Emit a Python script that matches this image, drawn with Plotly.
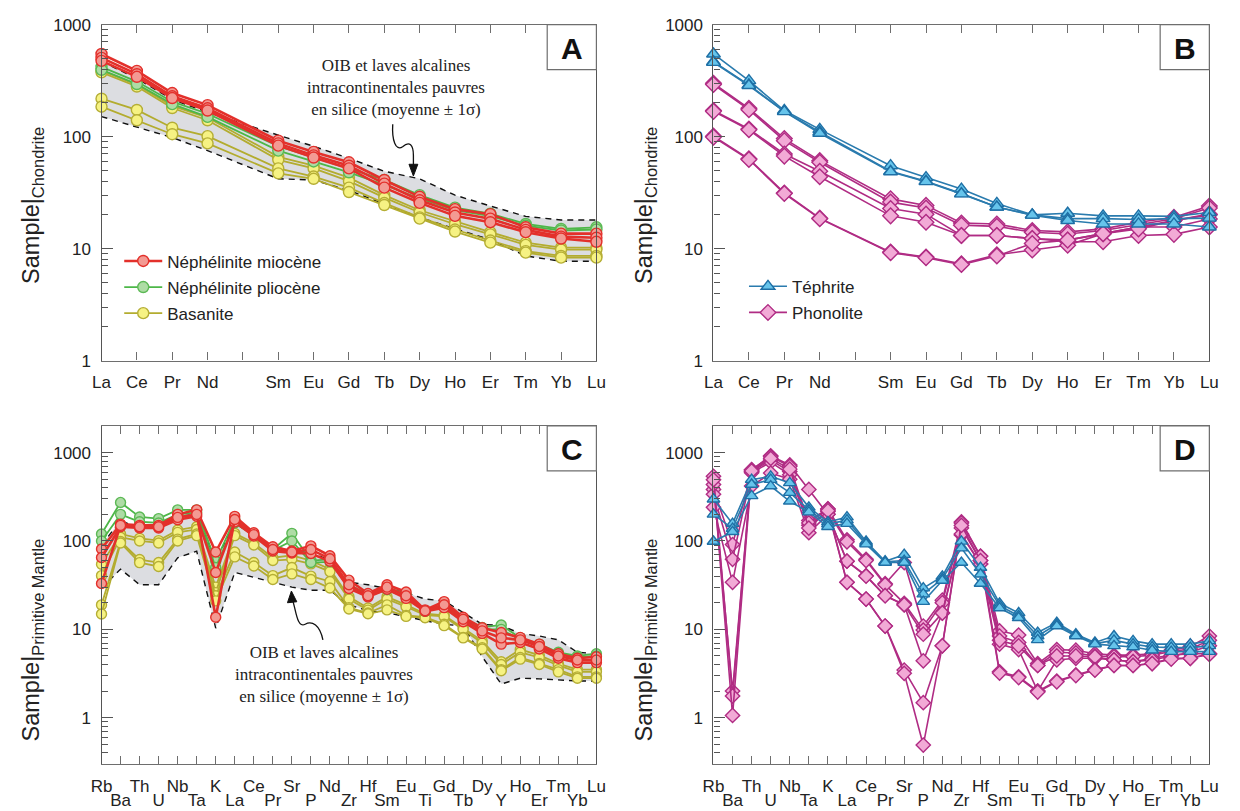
import math
import plotly.graph_objects as go

W, H = 1240, 811

# ---------------- categories ----------------
REE_AXIS = ["La", "Ce", "Pr", "Nd", "Pm", "Sm", "Eu", "Gd", "Tb", "Dy", "Ho", "Er", "Tm", "Yb", "Lu"]
REE_TICKTEXT = ["La", "Ce", "Pr", "Nd", "", "Sm", "Eu", "Gd", "Tb", "Dy", "Ho", "Er", "Tm", "Yb", "Lu"]
REE = ["La", "Ce", "Pr", "Nd", "Sm", "Eu", "Gd", "Tb", "Dy", "Ho", "Er", "Tm", "Yb", "Lu"]
SPIDER = ["Rb", "Ba", "Th", "U", "Nb", "Ta", "K", "La", "Ce", "Pr", "Sr", "P", "Nd", "Zr", "Hf",
          "Sm", "Eu", "Ti", "Gd", "Tb", "Dy", "Y", "Ho", "Er", "Tm", "Yb", "Lu"]

# ---------------- Panel A (chondrite-normalised REE) ----------------
A_red = [
    [547, 386, 245, 191, 92, 73, 59, 41, 29, 22.5, 20.3, 15.5, 13.6, 13.6],
    [505, 361, 229, 179, 87, 68, 55, 38, 27, 21, 18.5, 14.7, 12.8, 12.5],
    [475, 342, 221, 171, 83, 65, 52, 35, 25.6, 19.6, 17.2, 14, 12.3, 11.5],
]
A_green = [
    [420, 310, 205, 160, 82, 65, 52, 41, 30, 23.2, 20.5, 16.6, 15, 15.5],
    [395, 295, 195, 150, 75, 60, 48, 37, 28, 22, 19.5, 16, 14.5, 14.8],
]
A_yellow = [
    [390, 290, 188, 148, 66, 55, 43, 30, 22, 17.5, 14, 11.3, 10.2, 10.2],
    [375, 280, 180, 140, 62, 52, 40, 28.5, 21, 16.5, 13.4, 10.8, 9.8, 9.8],
    [218, 173, 120, 101, 52, 44, 35, 25.5, 19, 14.8, 11.8, 9.5, 8.6, 8.6],
    [185, 140, 105, 87, 47, 42, 32, 24.5, 18.5, 14.2, 11.3, 9.2, 8.3, 8.3],
]
A_band_upper = [470, 330, 215, 165, 103, 82, 64, 49, 42, 30, 24, 19.4, 18, 18]
A_band_lower = [151, 122, 98, 75, 42, 41, 33, 25, 19, 15, 12, 8.6, 7.7, 7.7]

# ---------------- Panel B ----------------
B_tephrite = [
    [547, 316, 171, 116, 55, 43, 34, 25.3, 20, 20.7, 19.6, 19.6, 19.4, 21],
    [466, 290, 168, 110, 49, 40, 31, 23.5, 20, 18.5, 18.5, 18.2, 18.5, 18.7],
    [460, 286, 167, 107, 48.5, 39.6, 30.8, 23.5, 19.9, 17.8, 16.6, 16.6, 16.6, 15.6],
]
B_phonolite = [
    [299, 179, 96, 61, 27.8, 24.3, 16.9, 16.6, 14.5, 14.1, 15, 17.2, 19, 24],
    [292, 174, 92, 59, 26, 23, 16.2, 15.8, 14, 13.5, 14.5, 16.5, 18.5, 23],
    [171, 117, 70, 49, 22.8, 20.3, 13.1, 13.1, 12.3, 11.9, 13.6, 15.6, 15.6, 18.4],
    [168, 115, 67, 43.8, 19.6, 17.2, 13.1, 13.1, 12.3, 11.5, 11.5, 13.1, 13.4, 15.6],
    [101, 63.4, 31.4, 18.7, 9.3, 8.4, 7.3, 8.8, 9.7, 10.7, 13.6, 15.6, 17.8, 20.3],
    [99, 62.5, 31, 18.5, 9.2, 8.3, 7.2, 8.6, 11.1, 11.9, 13.6, 15, 17.8, 20],
]

# ---------------- Panel C (primitive-mantle normalised) ----------------
C_red = [
    [81, 155, 150, 150, 200, 225, 75, 190, 124, 86, 77, 88, 68, 36, 25.4, 32, 26.5, 16.6, 20.6, 13.7, 10.4, 9.2, 8.1, 6.8, 5.3, 4.7, 4.9],
    [65, 145, 140, 140, 174, 190, 44, 164, 114, 77, 73, 72, 59, 29, 23.3, 28.4, 22.4, 16, 17.6, 12.2, 9, 6.8, 7.1, 6, 4.7, 4.2, 4.2],
    [33, 150, 145, 145, 185, 200, 13.7, 175, 118, 80, 75, 80, 63, 32, 24, 30, 24, 16.2, 19, 13, 9.6, 8, 7.6, 6.4, 5, 4.5, 4.5],
]
C_green = [
    [120, 273, 187, 179, 225, 225, 59, 175, 120, 80, 122, 60, 62, 32, 25, 30, 25, 16, 19, 13.5, 10.5, 11.2, 8, 6.8, 5.5, 5, 5.3],
    [100, 200, 165, 160, 200, 210, 50, 160, 115, 78, 100, 57, 58, 30, 24, 28, 23, 16, 18, 13, 10, 10, 7.6, 6.5, 5.3, 4.8, 5],
]
C_yellow = [
    [54.5, 120, 107, 101, 133, 145, 30, 122, 95, 64.6, 68.6, 60, 48, 23.3, 17.4, 23.3, 18.9, 15, 14.4, 10.4, 7.4, 4.3, 5.9, 5.1, 4.1, 3.5, 3.5],
    [40.5, 110, 100, 95, 125, 135, 26, 115, 90, 60, 62, 55, 45, 22, 16.5, 22, 18, 14.5, 14, 10, 7, 4, 5.5, 4.8, 3.9, 3.3, 3.3],
    [18.9, 98.6, 61.6, 57, 105, 120, 24, 75, 57, 40.5, 50, 40, 34.8, 17.6, 15.3, 18.9, 14.4, 13.7, 11.4, 8.1, 6.2, 3.5, 4.8, 4.1, 3.5, 2.9, 2.9],
    [14.9, 95, 56.9, 51.4, 100, 115, 21, 66, 52, 36.6, 42.4, 36.6, 29.3, 17, 15, 16.6, 14, 13.5, 11, 8, 6, 3.4, 4.6, 4, 3.3, 2.8, 2.8],
]
C_band_upper = [90, 170, 140, 140, 190, 200, 60, 160, 115, 85, 80, 75, 60, 34, 32, 29, 26, 22, 21, 15.5, 11.4, 11, 9, 8.4, 7.6, 5.5, 5.3]
C_band_lower = [29, 48, 32, 32, 64.6, 76.6, 10.3, 44, 38.8, 34, 30, 27.7, 27.7, 18.9, 16.2, 15.3, 14, 12.5, 11.4, 10.9, 4.9, 2.4, 2.8, 2.75, 2.65, 2.6, 2.6]

# ---------------- Panel D ----------------
D_tephrite = [
    [297, 157, 494, 539, 454, 240, 164, 186, 98.6, 59, 70, 29.3, 39.8, 99, 50, 19.7, 15.3, 9.2, 11.9, 8.8, 7.1, 8.4, 7.4, 6.8, 6.8, 6.8, 7.4],
    [200, 138, 436, 494, 352, 225, 155, 172, 95, 58, 60, 25, 37.5, 83, 42, 18.5, 14.2, 8.4, 11.4, 8.6, 6.9, 7.5, 6.8, 6.3, 6.2, 6.2, 6.5],
    [98.6, 127, 324, 418, 281, 212, 145, 157, 92, 57, 57, 20.6, 35.7, 57, 33, 17.4, 13.5, 7.6, 10.9, 8.4, 6.8, 6.5, 6.3, 5.8, 5.6, 5.6, 5.6],
]
D_phonolite = [
    [383, 91, 611, 822, 611, 171, 230, 103, 62, 32.8, 57, 10.9, 21.4, 164, 67.5, 9.6, 8.6, 4.1, 5.9, 5.8, 5.3, 5.1, 5.1, 5.3, 5.8, 6.4, 8.4],
    [337, 62, 590, 780, 560, 151, 215, 98, 60, 32, 19.7, 9.8, 20, 140, 60, 8.4, 7.1, 3.9, 5.5, 5.4, 5.0, 4.9, 4.9, 5.1, 5.6, 6.0, 7.5],
    [240, 34, 418, 586, 500, 124, 200, 59, 40.5, 24, 18.9, 8.8, 15.3, 117, 55, 6.8, 5.9, 2.0, 4.5, 4.7, 4.7, 4.5, 4.3, 4.7, 5.1, 5.3, 5.3],
    [435, 2.0, 637, 919, 724, 383, 200, 59, 40, 24, 19, 4.4, 15.3, 120, 55, 7.5, 6.5, 3.9, 5.0, 5.0, 4.9, 4.5, 4.3, 4.5, 5.0, 5.5, 6.5],
    [539, 1.76, 640, 900, 700, 160, 230, 34, 22, 10.9, 3.46, 1.48, 6.5, 160, 67, 3.3, 2.9, 2.0, 2.6, 3.05, 3.5, 3.9, 3.9, 4.1, 4.7, 4.7, 5.3],
    [494, 1.06, 620, 860, 650, 140, 220, 34, 22, 10.9, 3.18, 0.49, 6.5, 150, 60, 3.2, 2.85, 1.95, 2.55, 3.0, 3.45, 3.9, 3.9, 4.1, 4.6, 4.7, 5.2],
]

# ---------------- styles ----------------
FONT = "Liberation Sans, Arial, sans-serif"
SERIF = "Liberation Serif, Times New Roman, serif"
RED = dict(line="#E3302B", fill="#F39A93", edge="#E3302B", lw=2.6)
GREEN = dict(line="#4DB748", fill="#AEDCA5", edge="#5CB955", lw=1.8)
YELLOW = dict(line="#B3AC2F", fill="#F6F283", edge="#B5AE35", lw=1.8)
BLUE = dict(line="#2A7BAE", fill="#66C4EB", edge="#1E6FA5", lw=1.6)
PINK = dict(line="#B02C84", fill="#F2AAD6", edge="#B02C84", lw=1.6)


def px_x(px):
    return px / W


def px_y(py):
    return 1 - py / H


fig = go.Figure()


def add_band(xs, lower, upper, ax):
    fig.add_trace(go.Scatter(x=xs, y=lower, mode="lines", xaxis="x" + ax, yaxis="y" + ax,
                             line=dict(color="#111", width=1.4, dash="6px,5px"),
                             showlegend=False, hoverinfo="skip", cliponaxis=False))
    fig.add_trace(go.Scatter(x=xs, y=upper, mode="lines", xaxis="x" + ax, yaxis="y" + ax,
                             line=dict(color="#111", width=1.4, dash="6px,5px"),
                             fill="tonexty", fillcolor="#DCDDE1",
                             showlegend=False, hoverinfo="skip", cliponaxis=False))


def add_series(xs, series, style, symbol, size, ax, name, legend=None, rank=1000):
    for i, vals in enumerate(series):
        show = legend is not None and i == 0
        fig.add_trace(go.Scatter(
            x=xs, y=vals, mode="lines+markers", xaxis="x" + ax, yaxis="y" + ax,
            name=name, legendgroup=name + ax, showlegend=show, legendrank=rank,
            legend=legend if legend else "legend",
            line=dict(color=style["line"], width=style["lw"]),
            marker=dict(symbol=symbol, size=size, color=style["fill"],
                        line=dict(color=style["edge"], width=1.4)),
            cliponaxis=False, hoverinfo="skip"))


xs_ree = [REE_AXIS.index(e) for e in REE]
xs_sp = [SPIDER.index(e) for e in SPIDER]

# Panel A
add_band(xs_ree, A_band_lower, A_band_upper, "")
add_series(xs_ree, A_yellow, YELLOW, "circle", 11, "", "Basanite", legend="legend", rank=3)
add_series(xs_ree, A_green, GREEN, "circle", 11, "", "Néphélinite pliocène", legend="legend", rank=2)
add_series(xs_ree, A_red, RED, "circle", 11, "", "Néphélinite miocène", legend="legend", rank=1)

# Panel B
add_series(xs_ree, B_phonolite, PINK, "diamond", 12, "2", "Phonolite", legend="legend2", rank=2)
add_series(xs_ree, B_tephrite, BLUE, "triangle-up", 12, "2", "Téphrite", legend="legend2", rank=1)

# Panel C
add_band(xs_sp, C_band_lower, C_band_upper, "3")
add_series(xs_sp, C_yellow, YELLOW, "circle", 10, "3", "Basanite")
add_series(xs_sp, C_green, GREEN, "circle", 10, "3", "Néphélinite pliocène")
add_series(xs_sp, C_red, RED, "circle", 10, "3", "Néphélinite miocène")

# Panel D
add_series(xs_sp, D_phonolite, PINK, "diamond", 11, "4", "Phonolite")
add_series(xs_sp, D_tephrite, BLUE, "triangle-up", 11, "4", "Téphrite")

# ---------------- axes ----------------
PANELS = {
    "": dict(x=(92, 595), y=(16, 360), yr=(1, 1000)),
    "2": dict(x=(714, 1218), y=(16, 360), yr=(1, 1000)),
    "3": dict(x=(92, 595), y=(427, 773), yr=(0.3, 2000)),
    "4": dict(x=(714, 1218), y=(427, 773), yr=(0.3, 2000)),
}

minor_vals = []
for dec in [0.1, 1, 10, 100, 1000]:
    for k in range(2, 10):
        minor_vals.append(round(k * dec, 6))

layout_axes = {}
for ax, p in PANELS.items():
    xd = [px_x(p["x"][0]), px_x(p["x"][1])]
    yd = [px_y(p["y"][1]), px_y(p["y"][0])]
    spider = ax in ("3", "4")
    n = len(SPIDER) if spider else len(REE_AXIS)
    if spider:
        tv = [i for i in range(n) if i % 2 == 0]
        tt = [SPIDER[i] for i in tv]
    else:
        tv = list(range(n))
        tt = REE_TICKTEXT
    layout_axes["xaxis" + ax] = dict(
        domain=xd, range=[0, n - 1], anchor="y" + ax, showgrid=False, zeroline=False,
        showline=True, linecolor="#6E6E6E", linewidth=1.2, mirror="ticks",
        ticks="inside", ticklen=8, tickcolor="#6E6E6E", tickwidth=1,
        tickvals=tv, ticktext=tt, tickfont=dict(family=FONT, size=17, color="#222"),
        ticklabelstandoff=7 if spider else 6,
    )
    if spider:
        layout_axes["xaxis" + ax]["minor"] = dict(ticks="inside", ticklen=8, tickcolor="#6E6E6E",
                                                  tickvals=[i for i in range(n) if i % 2 == 1])
    layout_axes["yaxis" + ax] = dict(
        domain=yd, type="log", range=[math.log10(p["yr"][0]), math.log10(p["yr"][1])],
        anchor="x" + ax, showgrid=False, zeroline=False,
        showline=True, linecolor="#555", linewidth=1.2, mirror=True,
        ticks="inside", ticklen=11, tickcolor="#555", tickwidth=1,
        tickvals=[1, 10, 100, 1000], ticktext=["1", "10", "100", "1000"],
        tickfont=dict(family=FONT, size=17, color="#222"), ticklabelstandoff=6,
        minor=dict(ticks="inside", ticklen=6, tickcolor="#555",
                   tickvals=[v for v in minor_vals if p["yr"][0] <= v <= p["yr"][1]]),
    )

# second row of spider-diagram labels (odd positions)
for base, over in (("3", "5"), ("4", "6")):
    n = len(SPIDER)
    tv = [i for i in range(n) if i % 2 == 1]
    layout_axes["xaxis" + over] = dict(
        overlaying="x" + base, anchor="y" + base, range=[0, n - 1], side="bottom",
        showgrid=False, zeroline=False, showline=False, ticks="",
        tickvals=tv, ticktext=[SPIDER[i] for i in tv],
        tickfont=dict(family=FONT, size=17, color="#222"), ticklabelstandoff=24,
    )

fig.update_layout(**layout_axes)

for over, base in (("5", "3"), ("6", "4")):
    fig.add_trace(go.Scatter(x=[None], y=[None], xaxis="x" + over, yaxis="y" + base,
                             showlegend=False, hoverinfo="skip"))

# ---------------- annotations & shapes ----------------
annotations = []
shapes = []

for letter, (x0, x1, y0, y1) in {"A": (545, 595, 16, 62), "B": (1168, 1218, 16, 62),
                                  "C": (545, 595, 427, 473), "D": (1168, 1218, 427, 473)}.items():
    shapes.append(dict(type="rect", xref="paper", yref="paper", x0=px_x(x0), x1=px_x(x1),
                       y0=px_y(y1), y1=px_y(y0), line=dict(color="#6E6E6E", width=1.2),
                       fillcolor="white", layer="above"))
    annotations.append(dict(xref="paper", yref="paper", x=px_x((x0 + x1) / 2), y=px_y((y0 + y1) / 2 + 1),
                            text="<b>%s</b>" % letter, showarrow=False, xanchor="center", yanchor="middle",
                            font=dict(family=FONT, size=30, color="#111")))

for txt, (cx, cy) in [("Sample|<sub>Chondrite</sub>", (22, 201)),
                      ("Sample|<sub>Chondrite</sub>", (645, 201)),
                      ("Sample|<sub>Primitive Mantle</sub>", (22, 646)),
                      ("Sample|<sub>Primitive Mantle</sub>", (645, 646))]:
    annotations.append(dict(xref="paper", yref="paper", x=px_x(cx), y=px_y(cy), text=txt,
                            textangle=-90, showarrow=False, xanchor="center", yanchor="middle",
                            font=dict(family=FONT, size=23.5, color="#222")))

OIB = "OIB et laves alcalines<br>intracontinentales pauvres<br>en silice (moyenne ± 1σ)"
annotations.append(dict(xref="paper", yref="paper", x=px_x(391), y=px_y(80), text=OIB,
                        showarrow=False, xanchor="center", yanchor="middle", align="center",
                        font=dict(family=SERIF, size=17, color="#222")))
annotations.append(dict(xref="paper", yref="paper", x=px_x(318), y=px_y(681), text=OIB,
                        showarrow=False, xanchor="center", yanchor="middle", align="center",
                        font=dict(family=SERIF, size=17, color="#222")))


def P(x, y):
    return "%.5f,%.5f" % (px_x(x), px_y(y))


shapes.append(dict(type="path", xref="paper", yref="paper",
                   path="M%s C%s %s %s C%s %s %s L%s" % (P(388, 118), P(387, 134), P(391, 146), P(398, 141),
                                                       P(405, 135), P(409, 139), P(409, 150), P(409, 161)),
                   line=dict(color="#111", width=1.3)))
shapes.append(dict(type="path", xref="paper", yref="paper",
                   path="M%s L%s L%s Z" % (P(404.5, 159), P(409, 171), P(413.5, 159)),
                   fillcolor="#111", line=dict(color="#111", width=1)))
shapes.append(dict(type="path", xref="paper", yref="paper",
                   path="M%s C%s %s %s C%s %s %s L%s" % (P(317, 646), P(314, 631), P(306, 626), P(299, 630),
                                                       P(292, 634), P(290, 620), P(288, 612), P(286.5, 606)),
                   line=dict(color="#111", width=1.3)))
shapes.append(dict(type="path", xref="paper", yref="paper",
                   path="M%s L%s L%s Z" % (P(281, 608), P(285, 596), P(290.5, 607)),
                   fillcolor="#111", line=dict(color="#111", width=1)))

fig.update_layout(
    width=W, height=H, margin=dict(l=0, r=0, t=0, b=0),
    paper_bgcolor="white", plot_bgcolor="white",
    font=dict(family=FONT, color="#222"),
    annotations=annotations, shapes=shapes,
    legend=dict(x=px_x(110), y=px_y(240), xanchor="left", yanchor="top",
                bgcolor="rgba(0,0,0,0)", traceorder="grouped", tracegroupgap=1,
                itemwidth=38, font=dict(family=FONT, size=17, color="#222")),
    legend2=dict(x=px_x(745), y=px_y(266), xanchor="left", yanchor="top",
                 bgcolor="rgba(0,0,0,0)", traceorder="grouped", tracegroupgap=1,
                 itemwidth=38, font=dict(family=FONT, size=17, color="#222")),
)

fig.write_html("out.html")
